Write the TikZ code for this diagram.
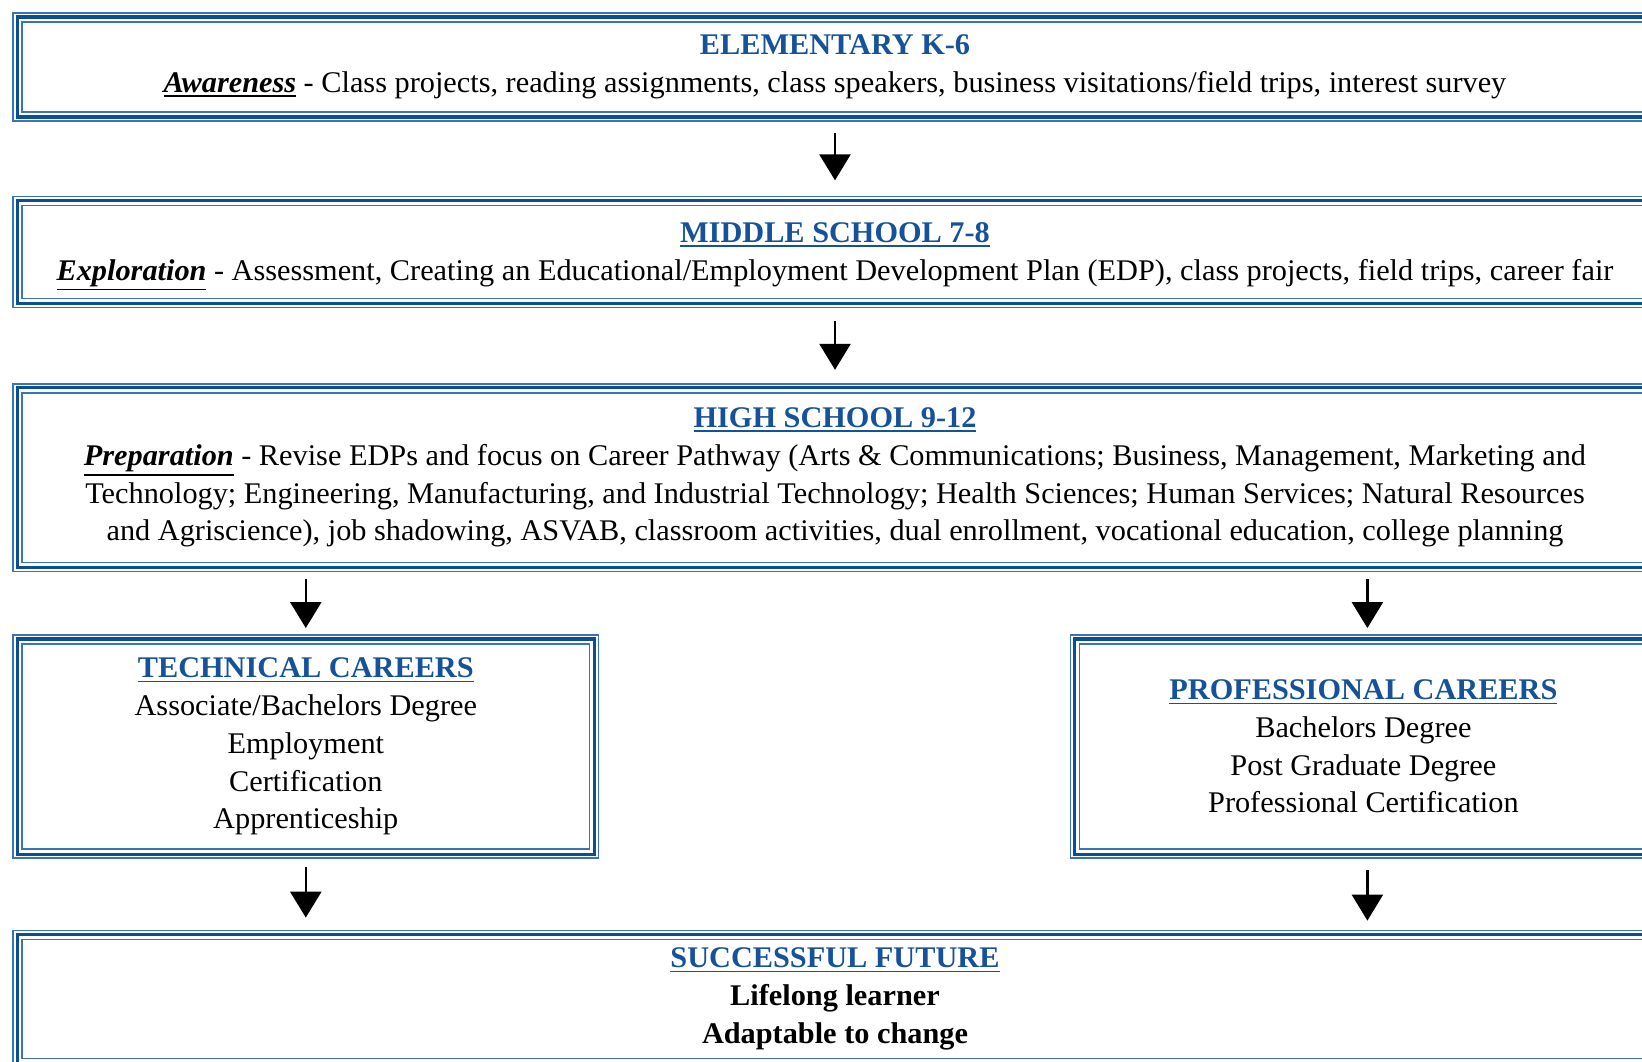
\documentclass[tikz,border=0pt]{standalone}
\usepackage{fontspec}
\setmainfont[FakeStretch=1.01]{Liberation Serif}
\usetikzlibrary{arrows.meta}
\definecolor{hblue}{RGB}{21,82,153}
\definecolor{bdark}{RGB}{10,78,148}
\definecolor{blight}{RGB}{60,115,182}
\newcommand\ul[2][2.5pt]{\leavevmode\vtop{\hbox{#2}\kern#1\hrule height 1.5pt}}
\newcommand\hd[1]{{\bfseries\color{hblue}#1}}
\newcommand\kw[1]{\raisebox{0pt}[\height][0pt]{\ul{\bfseries\itshape #1}}}
\newcommand\frm[1]{%
  \draw[bthin] (#1.north west) rectangle (#1.south east);
  \draw[bthick] ([xshift=4pt,yshift=-4pt]#1.north west) rectangle ([xshift=-4pt,yshift=4pt]#1.south east);
  \draw[bthin] ([xshift=9pt,yshift=-9pt]#1.north west) rectangle ([xshift=-9pt,yshift=9pt]#1.south east);}
\begin{document}
\begin{tikzpicture}[x=1pt,y=-1pt,
  box/.style={draw=none, inner sep=0pt, align=center, text=black,
    font=\fontsize{30}{37.7}\selectfont},
  bthin/.style={draw=blight, line width=1.4pt},
  bthick/.style={draw=bdark, line width=3.2pt},
  arr/.style={line width=2.6pt, -{Triangle[width=31pt,length=26pt]}}]
\useasboundingbox[fill=white] (0,0) rectangle (1642,1062);

\node[box, minimum width=1643.4pt, minimum height=107.5pt] (el) at (835,67)
  {\hd{ELEMENTARY K-6}\\
   \kw{Awareness} - Class projects, reading assignments, class speakers, business visitations/field trips, interest survey};
\node[box, minimum width=1643.4pt, minimum height=110.7pt] (ms) at (835,251.9)
  {\rule{0pt}{25pt}\hd{\ul{MIDDLE SCHOOL 7-8}}\\
   \kw{Exploration} - Assessment, Creating an Educational/Employment Development Plan (EDP), class projects, field trips, career fair};
\node[box, minimum width=1643.4pt, minimum height=187pt] (hs) at (835,477.5)
  {\hd{\ul{HIGH SCHOOL 9-12}}\\
   \kw{Preparation} - Revise EDPs and focus on Career Pathway (Arts \& Communications; Business, Management, Marketing and\\
   Technology; Engineering, Manufacturing, and Industrial Technology; Health Sciences; Human Services; Natural Resources\\
   and Agriscience), job shadowing, ASVAB, classroom activities, dual enrollment, vocational education, college planning};
\node[box, minimum width=585pt, minimum height=222.7pt] (tc) at (305.8,746.6)
  {\hd{\ul{TECHNICAL CAREERS}}\\
   Associate/Bachelors Degree\\ Employment\\ Certification\\ Apprenticeship};
\node[box, minimum width=585pt, minimum height=222.7pt] (pc) at (1363.4,746.6)
  {\hd{\ul{PROFESSIONAL CAREERS}}\\
   Bachelors Degree\\ Post Graduate Degree\\ Professional Certification};
\node[box, minimum width=1643.4pt, minimum height=136.4pt] (sf) at (835,999)
  {\hd{\ul{SUCCESSFUL FUTURE}}\\
   \textbf{Lifelong learner}\\ \textbf{Adaptable to change}};

\frm{el}\frm{ms}\frm{hs}\frm{tc}\frm{pc}\frm{sf}

\draw[arr, shorten <=12pt, shorten >=16pt] (el.south) -- (ms.north);
\draw[arr, shorten <=14pt, shorten >=14pt] (ms.south) -- (hs.north);
\draw[arr, shorten <=8pt, shorten >=7pt] (hs.south -| tc.north) -- (tc.north);
\draw[arr, shorten <=8pt, shorten >=7pt] ([xshift=4pt]hs.south -| pc.north) -- ([xshift=4pt]pc.north);
\draw[arr, shorten <=9pt, shorten >=13pt] (tc.south) -- (sf.north -| tc.south);
\draw[arr, shorten <=12pt, shorten >=10pt] ([xshift=4pt]pc.south) -- ([xshift=4pt]sf.north -| pc.south);
\end{tikzpicture}
\end{document}
